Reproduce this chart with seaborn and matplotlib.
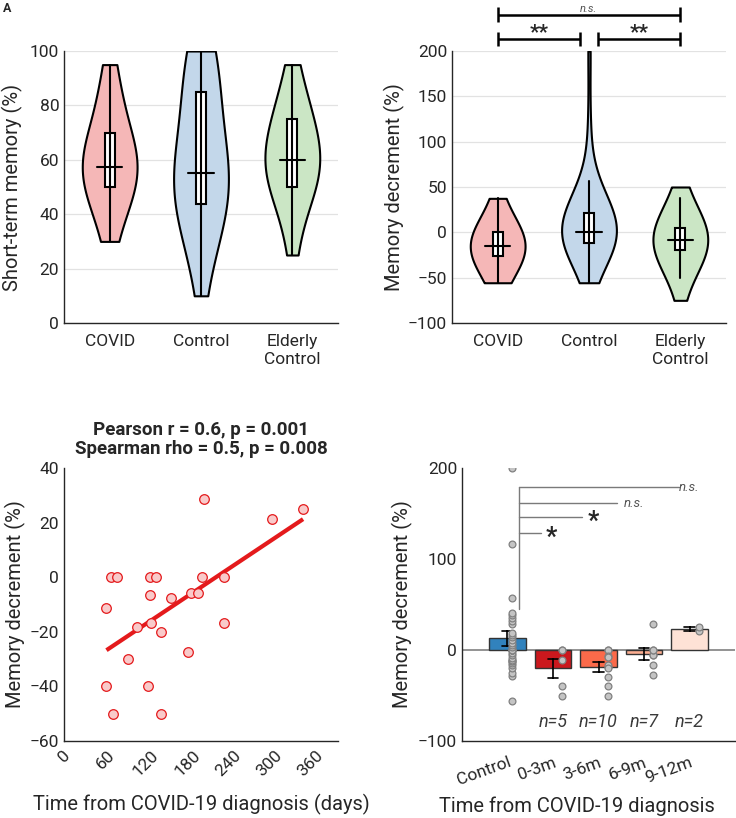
import numpy as np
import pandas as pd
import matplotlib
matplotlib.use("Agg")
import matplotlib.pyplot as plt
from matplotlib.patches import Rectangle
import seaborn as sns

# ---- panel A: short-term memory (%)
stm_covid = [30, 35, 40, 45, 50, 50, 50, 55, 55, 55, 55, 55,
             60, 60, 60, 65, 65, 70, 70, 75, 80, 85, 90, 95]
stm_control = [10, 20, 25, 30, 35, 35, 40, 40, 40, 40, 45, 45,
               50, 50, 50, 50, 55, 55, 55, 55, 55, 60, 60, 60,
               65, 65, 70, 75, 80, 85, 85, 90, 90, 90, 95, 95,
               100, 100, 100, 100]
stm_elderly = [25, 30, 40, 45, 45, 50, 50, 50, 55, 55, 55, 60, 60, 60,
               60, 60, 60, 65, 65, 70, 70, 75, 75, 75, 80, 80, 85, 90, 95]

# ---- panel B: memory decrement (%)
dec_covid = [-55.6, -50, -42.9, -40, -33.3, -28.6, -25, -22.2, -20, -18.2,
             -16.7, -16.7, -14.3, -12.5, -11.1, -7.7, -5.9, 0, 0, 0, 0,
             14.3, 25, 37.5]
dec_control = [-55.6, -28.6, -25, -20, -16.7, -14.3, -12.5, -12.5, -11.1, -8.3,
               -5, -3.3, 0, 0, 0, 0, 0, 3.3, 5.6, 7.7, 11.1, 14.3, 16.7, 18.2,
               28.6, 31.6, 35.3, 38.5, 41.2, 57.1, 116.7, 200]
dec_elderly = [-75, -50, -42.9, -37.5, -33.3, -28.6, -25, -19, -18.2, -16.7,
               -14.3, -12.5, -11.1, -10, -8.3, -6.7, -5, -3.3, 0, 0, 0,
               4.3, 5.6, 10, 14.3, 20, 28.6, 37.5, 50]

group_labels = ["COVID", "Control", "Elderly\nControl"]
violin_colors = ["#f5b7b7", "#c3d7ea", "#cbe6c5"]

# ---- panel C: COVID patients, days since diagnosis vs decrement
days = [62, 69, 78, 62, 71, 94, 106, 125, 135, 125, 127, 142,
        122, 142, 156, 181, 185, 196, 202, 205, 233, 233, 303, 349]
decrement = [-11.1, 0, 0, -40, -50, -30, -18.2, 0, 0, -6.7, -16.7, -20,
             -40, -50, -7.7, -27.3, -5.9, -5.9, 0, 28.6, 0, -16.7, 21.4, 25]

# ---- panel D: binned by time since diagnosis
time_bins = ["Control", "0-3m", "3-6m", "6-9m", "9-12m"]
bin_edges = [0, 90, 180, 270, 365]
bar_colors = ["#3182bd", "#cb181d", "#fb6a4a", "#fcae91", "#fee2d6"]

TXT = "#262626"
sns.set_style("white")
plt.rcParams["font.family"] = ["Roboto", "DejaVu Sans"]
plt.rcParams["font.size"] = 12.5
plt.rcParams["text.color"] = TXT
plt.rcParams["axes.labelcolor"] = TXT
plt.rcParams["xtick.color"] = TXT
plt.rcParams["ytick.color"] = TXT
plt.rcParams["axes.edgecolor"] = TXT

LABEL_FS = 14.5
W, H = 736, 818
fig = plt.figure(figsize=(W / 100, H / 100), dpi=100)


def make_ax(left, top, right, bottom):
    return fig.add_axes([left / W, 1 - bottom / H, (right - left) / W, (bottom - top) / H])


def style_ax(ax):
    sns.despine(ax=ax)
    ax.tick_params(direction="in", length=4, width=0.9, labelsize=12.5)
    for s in ["left", "bottom"]:
        ax.spines[s].set_linewidth(1.0)


def draw_boxes(ax, groups):
    for i, vals in enumerate(groups):
        v = np.asarray(vals, dtype=float)
        q1, med, q3 = np.percentile(v, [25, 50, 75])
        iqr = q3 - q1
        lo = v[v >= q1 - 1.5 * iqr].min()
        hi = v[v <= q3 + 1.5 * iqr].max()
        ax.add_patch(Rectangle((i - 0.055, q1), 0.11, q3 - q1, facecolor="white",
                               edgecolor="black", lw=1.5, zorder=3))
        ax.plot([i, i], [lo, hi], color="black", lw=1.5, zorder=4)
        ax.plot([i - 0.14, i + 0.14], [med, med], color="black", lw=1.5, zorder=4)


def violin_panel(ax, groups, ylabel, bws):
    # one call per group so each violin can get its own smoothing
    for label, vals, col, bw in zip(group_labels, groups, violin_colors, bws):
        df = pd.DataFrame({"group": label, "value": vals})
        sns.violinplot(data=df, x="group", y="value", order=group_labels,
                       color=col, inner=None, cut=0, density_norm="width",
                       width=0.6, linewidth=1.5, linecolor="black", saturation=1,
                       bw_adjust=bw, ax=ax)
    draw_boxes(ax, groups)
    ax.yaxis.grid(True, color="#e2e2e2", lw=0.9)
    ax.set_axisbelow(True)
    ax.set_xlim(-0.5, 2.5)
    ax.set_xlabel("")
    ax.set_ylabel(ylabel, fontsize=LABEL_FS)
    style_ax(ax)
    ax.tick_params(axis="x", pad=8)


# ---------------- A
axA = make_ax(64, 51, 338, 323)
violin_panel(axA, [stm_covid, stm_control, stm_elderly], "Short-term memory (%)",
             [1.5, 1.5, 1.5])
axA.set_ylim(0, 100)
axA.set_yticks(range(0, 101, 20))
axA.yaxis.set_label_coords(-0.15, 0.5)

# ---------------- B
axB = make_ax(452, 51, 726, 323)
violin_panel(axB, [dec_covid, dec_control, dec_elderly], "Memory decrement (%)",
             [2.3, 1.5, 2.3])
axB.set_ylim(-100, 200)
axB.set_yticks(range(-100, 201, 50))
axB.yaxis.set_label_coords(-0.172, 0.5)


def bracket(ax, x0, x1, y, cap=8):
    kw = dict(color="black", lw=1.8, clip_on=False, solid_capstyle="butt")
    ax.plot([x0, x1], [y, y], **kw)
    ax.plot([x0, x0], [y - cap, y + cap], **kw)
    ax.plot([x1, x1], [y - cap, y + cap], **kw)


bracket(axB, 0, 0.9, 213)
bracket(axB, 1.1, 2, 213)
bracket(axB, 0, 2, 240)
axB.text(0.45, 220, "**", ha="center", va="center", fontsize=15, weight="bold")
axB.text(1.55, 220, "**", ha="center", va="center", fontsize=15, weight="bold")
axB.text(1.0, 246.6, "n.s.", ha="center", va="center", fontsize=8,
         style="italic", color="#555555")

# ---------------- C
axC = make_ax(64, 468, 338, 741)
sns.regplot(x=days, y=decrement, ci=None, scatter=False, ax=axC,
            line_kws=dict(color="#e41a1c", lw=3, solid_capstyle="butt"))
sns.scatterplot(x=days, y=decrement, ax=axC, s=48, color="#f9caca",
                edgecolor="#e41a1c", linewidth=0.9, zorder=3)
axC.set_xlim(0, 400)
axC.set_ylim(-60, 40)
axC.set_xticks(range(0, 361, 60))
axC.set_yticks(range(-60, 41, 20))
style_ax(axC)
axC.tick_params(axis="x", rotation=45, pad=5)
axC.set_xlabel("Time from COVID-19 diagnosis (days)", fontsize=LABEL_FS)
axC.xaxis.set_label_coords(0.5, -0.195)
axC.set_ylabel("Memory decrement (%)", fontsize=LABEL_FS)
axC.yaxis.set_label_coords(-0.139, 0.5)
axC.set_title("Pearson r = 0.6, p = 0.001\nSpearman rho = 0.5, p = 0.008",
              fontsize=13.5, weight="bold", pad=10, linespacing=1.1)

# ---------------- D
bins = pd.cut(days, bins=bin_edges, labels=time_bins[1:], right=False)
df_d = pd.concat([
    pd.DataFrame({"group": "Control", "value": dec_control}),
    pd.DataFrame({"group": np.asarray(bins, dtype=str), "value": decrement}),
], ignore_index=True)

axD = make_ax(462, 468, 735, 741)
axD.axhline(0, color="#808080", lw=1.2, zorder=0)
sns.barplot(data=df_d, x="group", y="value", hue="group", order=time_bins,
            hue_order=time_bins, palette=bar_colors, errorbar="se", capsize=0.22,
            err_kws={"color": "black", "linewidth": 1.2}, edgecolor="#333333",
            linewidth=1, saturation=1, width=0.8, legend=False, ax=axD)
offsets = [0.1, 0.2, 0.2, 0.2, 0.2]
df_d["xpos"] = [time_bins.index(g) + offsets[time_bins.index(g)] for g in df_d["group"]]
sns.scatterplot(data=df_d, x="xpos", y="value", ax=axD, s=24, color="#c4c4c4",
                edgecolor="#808080", linewidth=0.9, zorder=5, legend=False)
axD.set_xlim(-1, 5)
axD.set_ylim(-100, 200)
axD.set_yticks([-100, 0, 100, 200])
axD.set_xticks(range(len(time_bins)))
axD.set_xticklabels(time_bins, rotation=20, ha="right", rotation_mode="anchor")
style_ax(axD)
axD.tick_params(axis="x", pad=10)
axD.set_xlabel("Time from COVID-19 diagnosis", fontsize=LABEL_FS)
axD.xaxis.set_label_coords(0.42, -0.205)
axD.set_ylabel("Memory decrement (%)", fontsize=LABEL_FS)
axD.yaxis.set_label_coords(-0.18, 0.5)

# significance lines vs control
sig_gray = "#7a7a7a"
axD.plot([0.25, 0.25], [45, 178.7], color=sig_gray, lw=1)
for yy, x_end, lab, tx, ty in [(178.7, 3.76, "n.s.", 3.76, 179),
                               (161, 2.41, "n.s.", 2.55, 161),
                               (146, 1.64, "*", 1.88, 141),
                               (128.6, 0.73, "*", 0.97, 123)]:
    axD.plot([0.25, x_end], [yy, yy], color=sig_gray, lw=1)
    if lab == "*":
        axD.text(tx, ty, lab, ha="center", va="center", fontsize=18, weight="bold")
    else:
        axD.text(tx, ty, lab, ha="left", va="center", fontsize=9.5,
                 style="italic", color="#555555")

for i, g in enumerate(time_bins[1:], start=1):
    n = int((df_d["group"] == g).sum())
    axD.text(i, -79, f"n={n}", ha="center", va="center", fontsize=13,
             style="italic", color="#3a3a3a")
for s in axD.spines.values():
    s.set_zorder(6)

fig.text(0.004, 0.998, "A", fontsize=9, weight="bold", va="top", ha="left")

fig.savefig("out.png", dpi=100)
